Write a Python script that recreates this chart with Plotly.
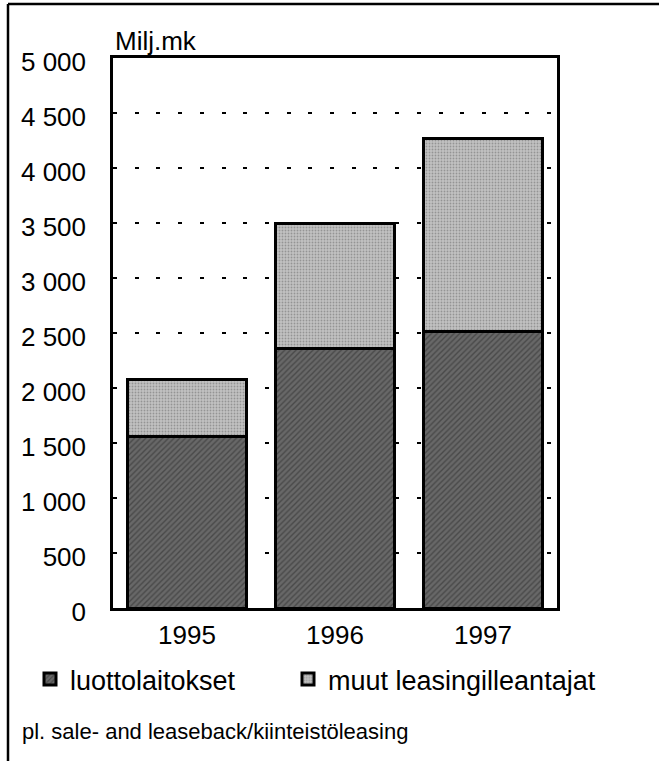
import plotly.graph_objects as go

years = ["1995", "1996", "1997"]
luottolaitokset = [1555, 2355, 2510]
muut = [518, 1136, 1755]

y_ticks = [0, 500, 1000, 1500, 2000, 2500, 3000, 3500, 4000, 4500, 5000]
y_ticktext = ["0", "500", "1 000", "1 500", "2 000", "2 500", "3 000", "3 500", "4 000", "4 500", "5 000"]

FONT = "Liberation Sans, Arial, Helvetica, sans-serif"

# plot area in pixels, used to place the page furniture
L, R, T, B = 113, 102, 58, 153
W, H = 659, 761
PW, PH = W - L - R, H - T - B


def px_x(x):
    return (x - L) / PW


def px_y(y):
    return (H - B - y) / PH


fig = go.Figure()

fig.add_bar(
    x=years,
    y=luottolaitokset,
    name="luottolaitokset",
    legend="legend",
    marker=dict(
        color="#5a5a5a",
        line=dict(color="black", width=3),
        pattern=dict(shape="/", bgcolor="#686868", fgcolor="#2a2a2a", size=4, solidity=0.35),
    ),
)
fig.add_bar(
    x=years,
    y=muut,
    name="muut leasingilleantajat",
    legend="legend2",
    marker=dict(
        color="#b0b0b0",
        line=dict(color="black", width=3),
        pattern=dict(shape=".", bgcolor="#c2c2c2", fgcolor="#666666", size=3, solidity=0.3),
    ),
)

legend_common = dict(
    orientation="h",
    xanchor="left",
    yanchor="top",
    font=dict(size=27),
    bgcolor="rgba(0,0,0,0)",
)

fig.update_layout(
    barmode="stack",
    bargap=0.2,
    width=W,
    height=H,
    margin=dict(l=L, r=R, t=T, b=B),
    paper_bgcolor="white",
    plot_bgcolor="white",
    font=dict(family=FONT, size=26, color="black"),
    showlegend=True,
    legend=dict(x=px_x(30), y=px_y(655), **legend_common),
    legend2=dict(x=px_x(288), y=px_y(655), **legend_common),
    xaxis=dict(
        showgrid=False,
        showline=True,
        linecolor="black",
        linewidth=2.5,
        mirror=True,
        ticks="",
        ticklabelstandoff=2,
        tickfont=dict(size=26),
    ),
    yaxis=dict(
        range=[0, 5000],
        tickvals=y_ticks,
        ticktext=y_ticktext,
        showgrid=True,
        gridcolor="black",
        gridwidth=2,
        griddash="4px,17.7px",
        zeroline=False,
        showline=True,
        linecolor="black",
        linewidth=2.5,
        mirror=True,
        ticks="",
        ticklabelstandoff=19,
        ticklabelshift=4,
        tickfont=dict(size=26),
    ),
)

fig.add_annotation(
    text="Milj.mk", xref="paper", yref="paper", x=0, y=1,
    xanchor="left", yanchor="bottom", showarrow=False, font=dict(size=26),
)
fig.add_annotation(
    text="pl. sale- and leaseback/kiinteistöleasing", xref="paper", yref="paper",
    x=px_x(20), y=px_y(731), xanchor="left", yanchor="middle", showarrow=False,
    font=dict(size=22),
)

# frame of the scanned page: left and top edges only
fig.add_shape(type="line", xref="paper", yref="paper",
              x0=px_x(8), x1=px_x(8), y0=px_y(4), y1=px_y(761),
              line=dict(color="black", width=2.5))
fig.add_shape(type="line", xref="paper", yref="paper",
              x0=px_x(8), x1=px_x(659), y0=px_y(4), y1=px_y(4),
              line=dict(color="black", width=2.5))

fig.write_html(
    "out.html",
    config={"displayModeBar": False},
    post_script="document.body.style.margin='0';",
)
